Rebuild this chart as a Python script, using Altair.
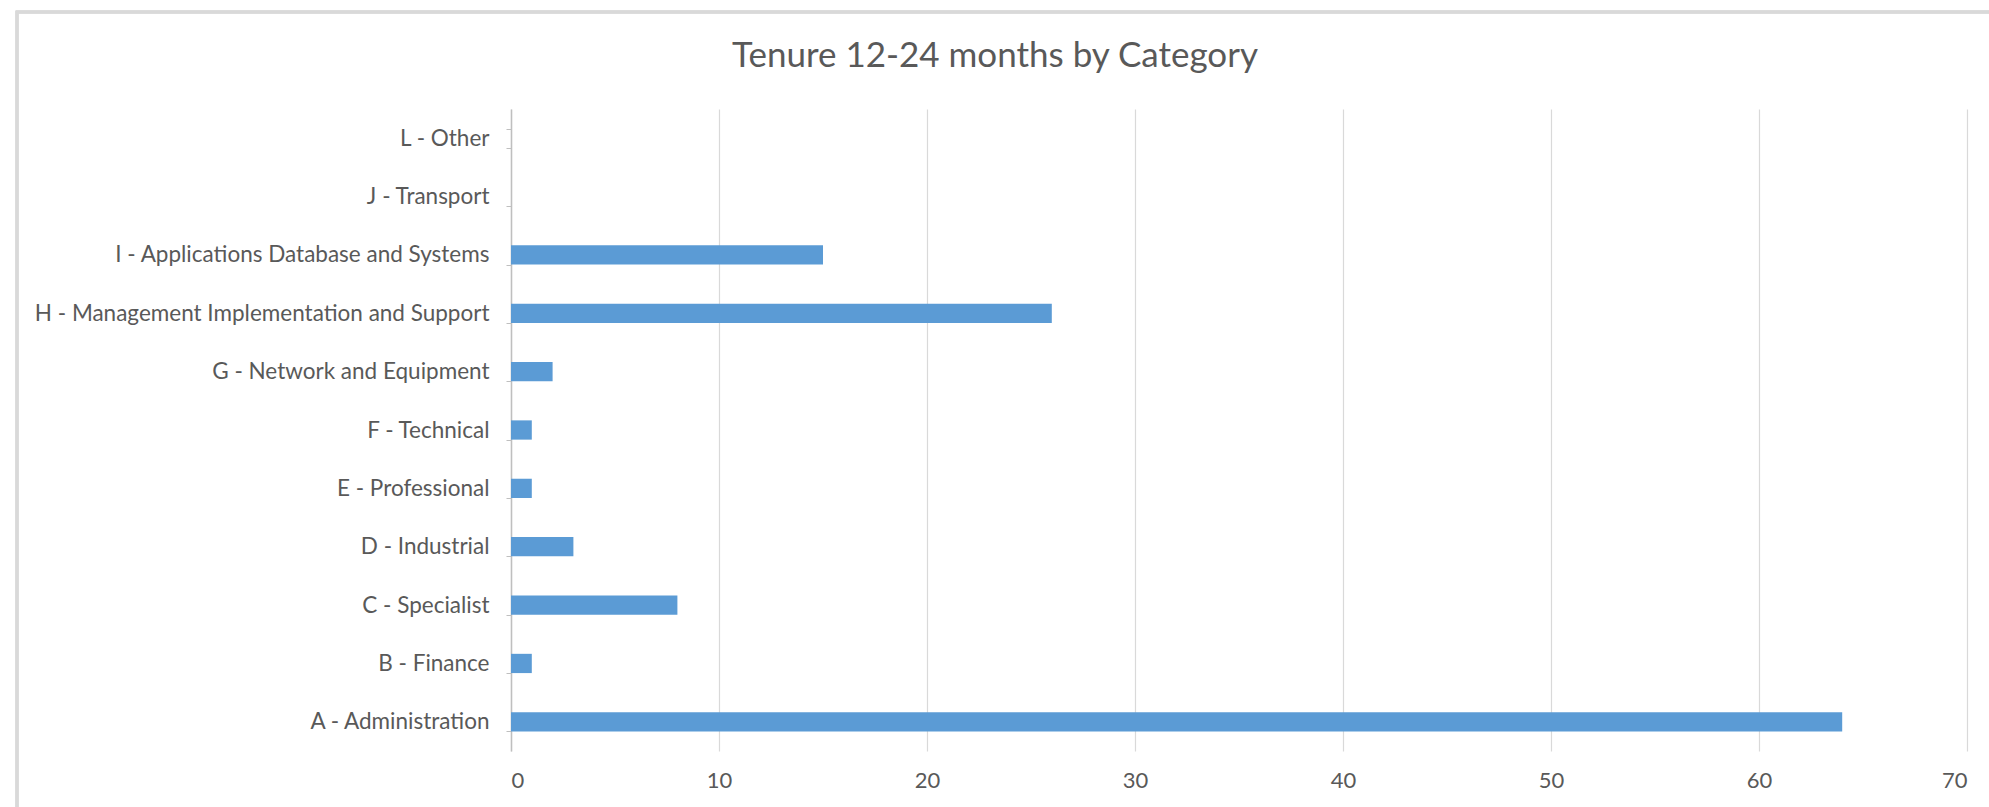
import altair as alt
import pandas as pd

# Headcount with 12-24 months tenure, per job category
categories = [
    "A - Administration",
    "B - Finance",
    "C - Specialist",
    "D - Industrial",
    "E - Professional",
    "F - Technical",
    "G - Network and Equipment",
    "H - Management Implementation and Support",
    "I - Applications Database and Systems",
    "J - Transport",
    "L - Other",
]
counts = [64, 1, 8, 3, 1, 1, 2, 26, 15, 0, 0]
title_text = ["Tenure 12-24 months by Category"]

df = pd.DataFrame({"category": categories, "count": counts})
order = categories[::-1]  # L at the top, A at the bottom

FONT = "Lato"
TEXT = "#595959"

bars = alt.Chart(df).mark_bar(color="#5B9BD5").encode(
    x=alt.X(
        "count:Q",
        scale=alt.Scale(domain=[0, 70], nice=False),
        axis=alt.Axis(
            values=[0, 10, 20, 30, 40, 50, 60, 70],
            title=None,
            grid=True,
            gridColor="#D9D9D9",
            gridWidth=1.2,
            domain=False,
            ticks=False,
            labelPadding=19,
            labelFontSize=22,
            labelColor=TEXT,
            labelFont=FONT,
        ),
    ),
    y=alt.Y(
        "category:N",
        sort=order,
        scale=alt.Scale(paddingInner=0.67, paddingOuter=0.335),
        axis=alt.Axis(
            title=None,
            domainColor="#BFBFBF",
            domainWidth=1.5,
            tickColor="#BFBFBF",
            tickSize=5,
            tickBand="extent",
            labelPadding=17,
            labelFontSize=22.5,
            labelColor=TEXT,
            labelFont=FONT,
            labelLimit=600,
        ),
    ),
)

# Light outline around the whole chart area
frame = alt.Chart(df).mark_rect(
    fill=None, stroke="#D9D9D9", strokeWidth=2.5
).encode(
    x=alt.value(-494), x2=alt.value(1500),
    y=alt.value(-97), y2=alt.value(720),
)

# Chart title, centred on the full frame rather than the plot area
title = alt.Chart(pd.DataFrame({"t": title_text})).mark_text(
    font=FONT, fontSize=35, color=TEXT, align="center", baseline="middle"
).encode(
    text="t:N",
    x=alt.value(484),
    y=alt.value(-53),
)

chart = (
    alt.layer(frame, bars, title)
    .properties(
        width=1456,
        height=642,
        padding={"left": 511, "top": 109, "right": 22, "bottom": 56},
        autosize=alt.AutoSizeParams(type="none"),
        background="white",
    )
    .configure_view(stroke=None)
)

chart.save("out.html", embed_options={"renderer": "svg", "actions": False})
